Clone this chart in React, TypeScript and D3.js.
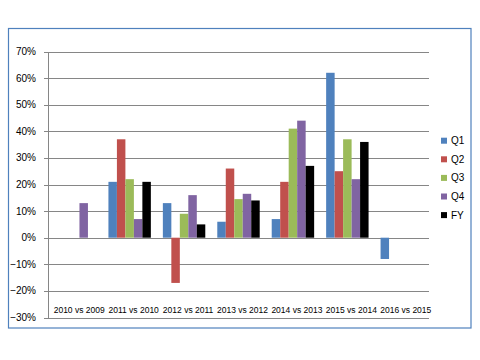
import React from "react";
import * as d3 from "d3";

const categories = [
  "2010 vs 2009",
  "2011 vs 2010",
  "2012 vs 2011",
  "2013 vs 2012",
  "2014 vs 2013",
  "2015 vs 2014",
  "2016 vs 2015",
];
const seriesNames = ["Q1", "Q2", "Q3", "Q4", "FY"];
const q1: (number | null)[] = [null, 0.21, 0.13, 0.06, 0.07, 0.62, -0.08];
const q2: (number | null)[] = [null, 0.37, -0.17, 0.26, 0.21, 0.25, null];
const q3: (number | null)[] = [null, 0.22, 0.09, 0.145, 0.41, 0.37, null];
const q4: (number | null)[] = [0.13, 0.07, 0.16, 0.165, 0.44, 0.22, null];
const fy: (number | null)[] = [null, 0.21, 0.05, 0.14, 0.27, 0.36, null];
const seriesValues = [q1, q2, q3, q4, fy];
const colors = ["#4F81BD", "#C0504D", "#9BBB59", "#8064A2", "#000000"];
const yTicks = [-0.3, -0.2, -0.1, 0, 0.1, 0.2, 0.3, 0.4, 0.5, 0.6, 0.7];

export default function App() {
  const plotL = 48;
  const plotR = 429;
  const yTop = 51.5;
  const yBot = 317.5;
  const x0 = d3.scaleBand<string>().domain(categories).range([plotL, plotR]).padding(0);
  const gap = 12;
  const x1 = d3
    .scaleBand<string>()
    .domain(seriesNames)
    .range([gap / 2, x0.bandwidth() - gap / 2])
    .padding(0);
  const y = d3.scaleLinear().domain([-0.3, 0.7]).range([yBot, yTop]);
  const fmt = d3.format(".0%");
  const font = "'Liberation Sans', Arial, sans-serif";
  const crisp = (v: number) => Math.round(v) + 0.5;

  return (
    <svg
      width={480}
      height={360}
      style={{ position: "absolute", left: 0, top: 0, background: "#fff" }}
    >
      <rect x={8.5} y={28.5} width={462.5} height={299.5} fill="#fff" stroke="#4F81BD" strokeWidth={1.2} />
      {/* gridlines */}
      {yTicks.map((t) => (
        <g key={t}>
          <line x1={plotL - 4} x2={plotR} y1={crisp(y(t))} y2={crisp(y(t))} stroke="#868686" strokeWidth={1} />
          <text
            x={36}
            y={y(t)}
            dy="0.35em"
            textAnchor="end"
            fontFamily={font}
            fontSize={10}
            fill="#000"
          >
            {fmt(t)}
          </text>
        </g>
      ))}
      {/* bars */}
      {seriesValues.map((vals, si) =>
        vals.map((v, ci) =>
          v === null ? null : (
            <rect
              key={`${si}-${ci}`}
              x={(x0(categories[ci]) ?? 0) + (x1(seriesNames[si]) ?? 0)}
              y={y(Math.max(0, v))}
              width={x1.bandwidth()}
              height={Math.abs(y(v) - y(0))}
              fill={colors[si]}
            />
          )
        )
      )}
      {/* vertical axis */}
      <line x1={crisp(plotL)} x2={crisp(plotL)} y1={crisp(yTop)} y2={crisp(yBot)} stroke="#868686" strokeWidth={1} />
      {/* category labels */}
      {categories.map((c) => (
        <text
          key={c}
          x={(x0(c) ?? 0) + x0.bandwidth() / 2 + 4}
          y={313}
          textAnchor="middle"
          fontFamily={font}
          fontSize={8.5}
          fill="#000"
        >
          {c}
        </text>
      ))}
      {/* legend */}
      {seriesNames.map((s, i) => {
        const cy = 140.7 + i * 18.6;
        return (
          <g key={s}>
            <rect x={441} y={cy - 3} width={6} height={6} fill={colors[i]} />
            <text x={451} y={cy} dy="0.35em" fontFamily={font} fontSize={10} fill="#000">
              {s}
            </text>
          </g>
        );
      })}
    </svg>
  );
}
